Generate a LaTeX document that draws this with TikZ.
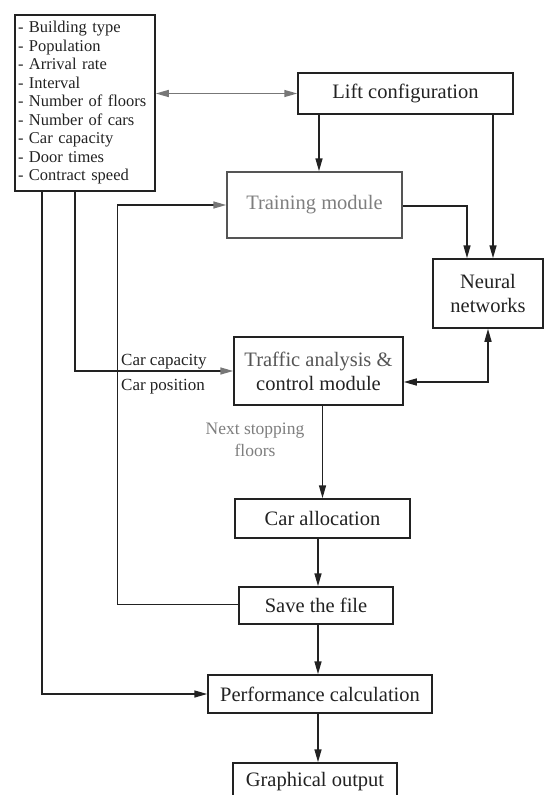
\documentclass[tikz,border=0pt]{standalone}
\usepackage{fontspec}
\setmainfont{Liberation Serif}
\usetikzlibrary{arrows.meta}
\definecolor{ink}{HTML}{222222}
\definecolor{gink}{HTML}{777777}
\definecolor{ltxt}{HTML}{7E7E7E}
\definecolor{mtxt}{HTML}{555555}
\begin{document}
\begin{tikzpicture}[x=1pt,y=-1pt,
  box/.style={draw=ink,line width=1.5pt,inner sep=0pt,text=ink,
    font=\rmfamily\fontsize{20.5}{24}\selectfont,align=center},
  listbox/.style={draw=ink,line width=1.5pt,inner sep=3pt,text=ink,
    font=\rmfamily\fontsize{16.5}{18.5}\selectfont,align=left,text width=134pt},
  lbl/.style={inner sep=0pt,text=ink,font=\rmfamily\fontsize{17}{20}\selectfont},
  glbl/.style={inner sep=0pt,text=ltxt,font=\rmfamily\fontsize{17.5}{22}\selectfont,align=center},
  link/.style={draw=ink,line width=1.5pt},
  arr/.style={link,-{Triangle[length=13pt,width=7pt]}},
  garr/.style={link,-{Triangle[length=13pt,width=7pt,color=gink]}},
  darr/.style={link,{Triangle[length=13pt,width=7pt]}-{Triangle[length=13pt,width=7pt]}},
  gdarr/.style={draw=gink,line width=1.5pt,{Triangle[length=13pt,width=7pt]}-{Triangle[length=13pt,width=7pt]}}
]
\useasboundingbox (0,0) rectangle (545,795);

\node[listbox,minimum height=176pt] (inp) at (85,103) {%
- Building type\\
- Population\\
- Arrival rate\\
- Interval\\
- Number of floors\\
- Number of cars\\
- Car capacity\\
- Door times\\
- Contract speed};

\node[box,minimum width=215pt,minimum height=41pt] (lift) at (405.5,93.5) {Lift configuration};
\node[box,minimum width=175pt,minimum height=66pt,text=ltxt,draw=mtxt] (train) at (314.5,205) {Training module};
\node[box,minimum width=110pt,minimum height=69pt] (neural) at (488,293.5) {Neural\\networks};
\node[box,minimum width=169pt,minimum height=68pt] (traffic) at (318.5,371) {\textcolor{mtxt}{Traffic analysis \&}\\control module};
\node[box,minimum width=175pt,minimum height=39pt] (alloc) at (322.5,518.5) {Car allocation};
\node[box,minimum width=154pt,minimum height=37pt] (save) at (316,605.5) {Save the file};
\node[box,minimum width=224pt,minimum height=38pt] (perf) at (320,694) {Performance calculation};
\node[box,minimum width=164pt,minimum height=38pt] (graph) at (315,782) {Graphical output};

\node[lbl,anchor=west] (capl) at (121,362) {Car capacity};
\node[lbl,anchor=west] (posl) at (121,387) {Car position};
\node[glbl] (nextl) at (255,440) {Next stopping\\floors};

% connectors
\draw[gdarr] (lift.west -| inp.east) -- (lift.west);
\draw[arr] ([xshift=4.5pt]train.north |- lift.south) -- ([xshift=4.5pt]train.north);
\draw[arr] ([xshift=5pt]neural.north |- lift.south) -- ([xshift=5pt]neural.north);
\draw[arr] ([yshift=-1pt]train.east) -| ([xshift=-21pt]neural.north);
\draw[darr] ([yshift=-11pt]traffic.east) -| (neural.south);
\draw[garr] ([xshift=-10pt]inp.south) |- (traffic.west);
\draw[arr] (traffic.south -| alloc.north) -- (alloc.north);
\draw[arr] ([xshift=2pt]save.north |- alloc.south) -- ([xshift=2pt]save.north);
\draw[arr] ([xshift=2pt]save.south) -- ([xshift=2pt]save.south |- perf.north);
\draw[arr] ([xshift=2pt]save.south |- perf.south) -- ([xshift=2pt]save.south |- graph.north);
\draw[garr] ([yshift=1pt]save.west) -- ++(-121,0) |- (train.west);
\draw[arr] ([xshift=-43pt]inp.south) |- (perf.west);
\end{tikzpicture}
\end{document}
